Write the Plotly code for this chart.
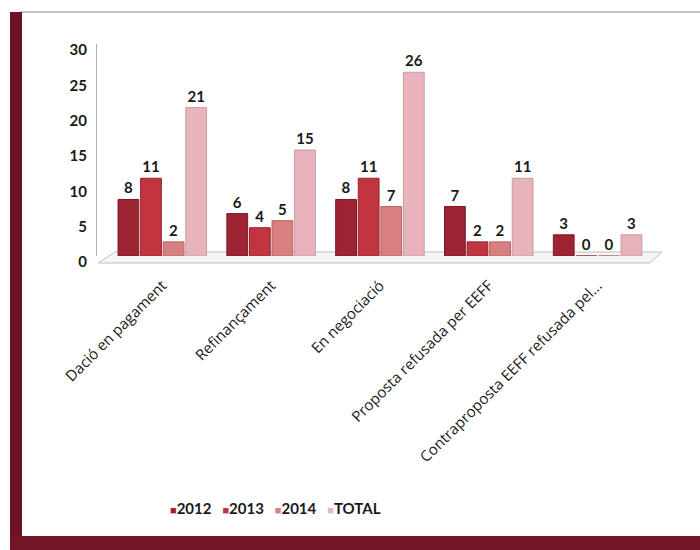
import plotly.graph_objects as go

categories = ["Dació en pagament", "Refinançament", "En negociació",
              "Proposta refusada per EEFF", "Contraproposta EEFF refusada pel..."]
series_names = ["2012", "2013", "2014", "TOTAL"]
v2012 = [8, 6, 8, 7, 3]
v2013 = [11, 4, 11, 2, 0]
v2014 = [2, 5, 7, 2, 0]
vtotal = [21, 15, 26, 11, 3]
y_ticks = [0, 5, 10, 15, 20, 25, 30]

colors = ["#9e2433", "#c2343f", "#d8807f", "#e9b3bb"]
edge = ["#7a1826", "#962430", "#b86266", "#c99aa2"]

W, H = 700, 550
ml, mr, mt, mb = 97, 48, 44, 294
PW, PH = W - ml - mr, H - mt - mb


def px(x):
    return (x - ml) / PW


def py(y):
    return (H - mb - y) / PH


fig = go.Figure()
for name, vals, c, e in zip(series_names, [v2012, v2013, v2014, vtotal], colors, edge):
    fig.add_trace(go.Bar(
        x=categories, y=vals, name=name,
        marker=dict(color=c, line=dict(color=e, width=1)),
        text=[str(v) for v in vals], textposition="outside",
        textfont=dict(family="Lato", size=15, color="#1a1a1a", weight="bold"),
        cliponaxis=False, showlegend=False,
    ))

shapes = []
# 3D floor
shapes.append(dict(type="path", xref="paper", yref="paper",
                   path=f"M {px(98)} {py(263)} L {px(650)} {py(263)} L {px(662)} {py(252)} L {px(115)} {py(252)} Z",
                   fillcolor="#f4f6f4", line=dict(color="#b8c4bc", width=1), layer="below"))
# frame: top gray line
shapes.append(dict(type="line", xref="paper", yref="paper",
                   x0=px(20), x1=px(700), y0=py(12), y1=py(12),
                   line=dict(color="#c4c4c4", width=2)))
# left dark red band
shapes.append(dict(type="rect", xref="paper", yref="paper",
                   x0=px(10), x1=px(22), y0=py(550), y1=py(12),
                   fillcolor="#6e1322", line=dict(width=0)))
# bottom dark red band
shapes.append(dict(type="rect", xref="paper", yref="paper",
                   x0=px(10), x1=px(700), y0=py(550), y1=py(536),
                   fillcolor="#741526", line=dict(width=0)))

# compact legend built from the series names and colours
legend_parts = [
    f"<span style='color:{c};font-size:11px'>■</span>{n}"
    for n, c in zip(series_names, colors)
]
legend_text = "&nbsp;&nbsp;&nbsp;".join(legend_parts)

fig.update_layout(
    width=W, height=H,
    margin=dict(l=ml, r=mr, t=mt, b=mb),
    paper_bgcolor="white", plot_bgcolor="rgba(0,0,0,0)",
    barmode="group", bargap=0.17, bargroupgap=0.08,
    showlegend=False,
    shapes=shapes,
    annotations=[dict(text=legend_text, xref="paper", yref="paper",
                      x=px(275), y=py(508), xanchor="center", yanchor="middle",
                      showarrow=False,
                      font=dict(family="Lato", size=15, color="#1a1a1a", weight="bold"))],
    font=dict(family="Lato", color="#1a1a1a"),
)
fig.update_xaxes(range=[-0.6, 4.5], tickangle=-45, showline=False, showgrid=False,
                 ticks="", ticklabelstandoff=17,
                 tickfont=dict(family="Open Sans", size=15, color="#1a1a1a"))
fig.update_yaxes(range=[0, 30], tickvals=y_ticks, showgrid=False, zeroline=False,
                 showline=True, linecolor="#b0b0b0", linewidth=1, ticks="",
                 ticklabelstandoff=6, ticklabelshift=6,
                 tickfont=dict(family="Lato", size=15, color="#1a1a1a", weight="bold"))

fig.write_html("out.html")
